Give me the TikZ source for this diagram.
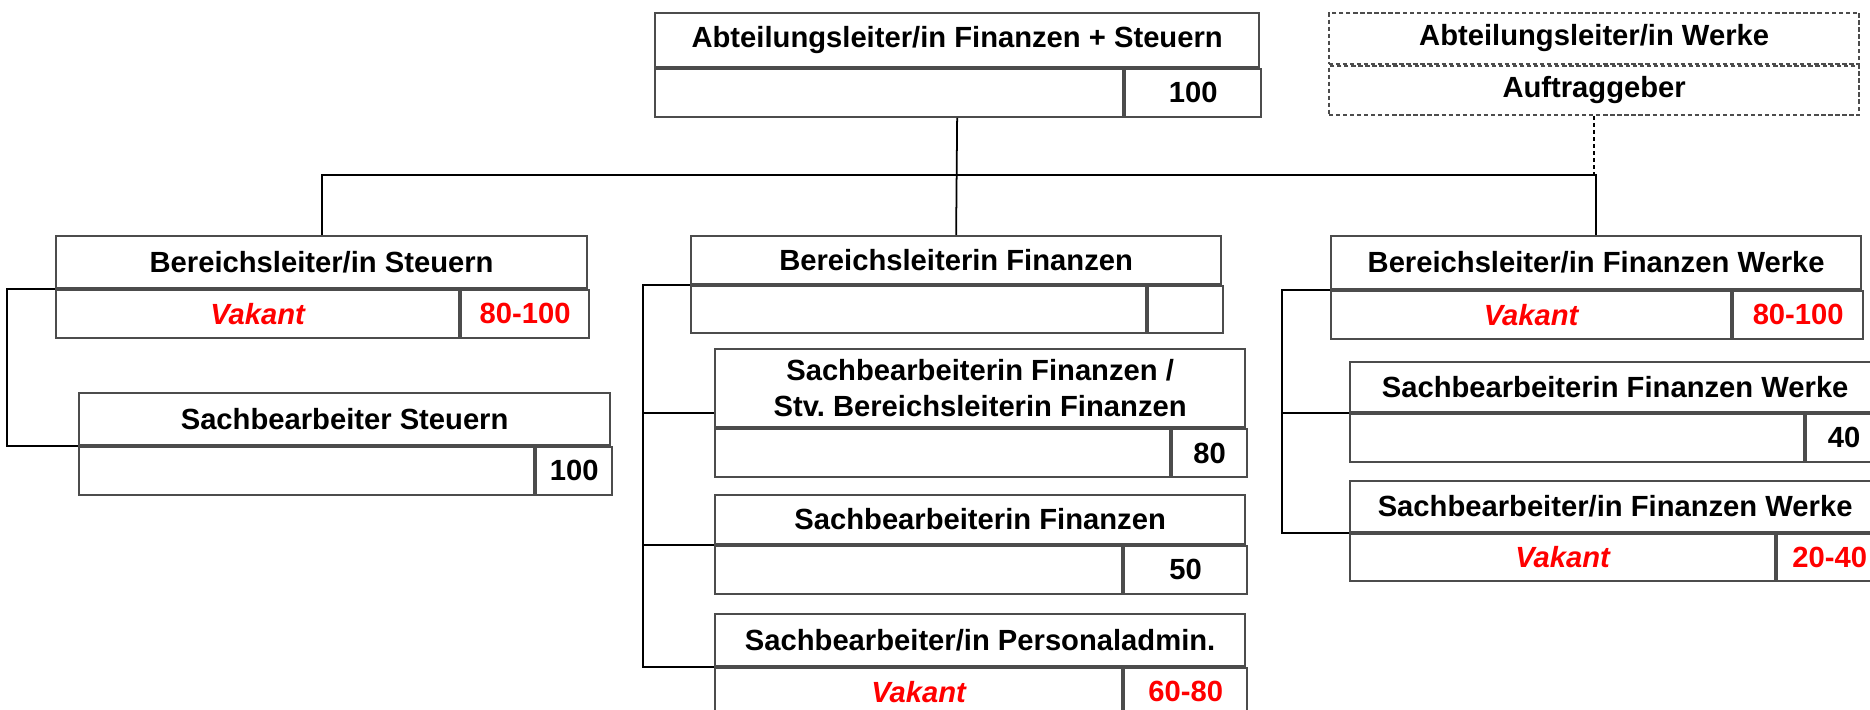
\documentclass[tikz,border=0pt]{standalone}
\usepackage{fontspec}
\setmainfont{Liberation Sans}

\begin{document}
\begin{tikzpicture}[x=0.01cm, y=-0.01cm,
  box/.style={draw=black!70, line width=0.55pt, rectangle, inner sep=0pt, anchor=north west,
    align=center, font=\fontsize{8.3}{10}\selectfont\bfseries},
  row/.style={box, minimum height=0.48cm},
  vak/.style={text=red, font=\fontsize{8.3}{10}\selectfont\bfseries\itshape},
  redpct/.style={text=red},
  link/.style={line width=0.5pt},
  dotline/.style={dash pattern=on 1.2pt off 0.8pt}]
  \useasboundingbox (0,0) rectangle (1870,710);

  % Abteilungsleitung
  \node[box, minimum width=6.04cm, minimum height=0.54cm] (ab) at (654,12) {Abteilungsleiter/in Finanzen + Steuern};
  \node[row, minimum width=4.68cm] (abn) at (ab.south west) {};
  \node[row, minimum width=1.36cm] (abp) at (abn.north east) {100};

  \node[box, dotline, minimum width=5.30cm, minimum height=0.51cm] (aw) at (1328,12) {Abteilungsleiter/in Werke};
  \node[box, dotline, minimum width=5.30cm, minimum height=0.49cm] (awa) at (aw.south west) {Auftraggeber};

  % Steuern
  \node[box, minimum width=5.31cm, minimum height=0.52cm] (bs) at (55,235) {Bereichsleiter/in Steuern};
  \node[row, vak, minimum width=4.03cm] (bsn) at (bs.south west) {Vakant};
  \node[row, redpct, minimum width=1.28cm] (bsp) at (bsn.north east) {80-100};

  \node[box, minimum width=5.31cm, minimum height=0.52cm] (ss) at (78,392) {Sachbearbeiter Steuern};
  \node[row, minimum width=4.55cm] (ssn) at (ss.south west) {};
  \node[row, minimum width=0.76cm] (ssp) at (ssn.north east) {100};

  % Finanzen
  \node[box, minimum width=5.30cm, minimum height=0.48cm] (bf) at (690,235) {Bereichsleiterin Finanzen};
  \node[row, minimum width=4.55cm, minimum height=0.47cm] (bfn) at (bf.south west) {};
  \node[row, minimum width=0.75cm, minimum height=0.47cm] (bfp) at (bfn.north east) {};

  \node[box, minimum width=5.30cm, minimum height=0.78cm] (sf1) at (714,348) {Sachbearbeiterin Finanzen /\\Stv.\ Bereichsleiterin Finanzen};
  \node[row, minimum width=4.55cm] (sf1n) at (sf1.south west) {};
  \node[row, minimum width=0.75cm] (sf1p) at (sf1n.north east) {80};

  \node[box, minimum width=5.30cm, minimum height=0.49cm] (sf2) at (714,494) {Sachbearbeiterin Finanzen};
  \node[row, minimum width=4.07cm] (sf2n) at (sf2.south west) {};
  \node[row, minimum width=1.23cm] (sf2p) at (sf2n.north east) {50};

  \node[box, minimum width=5.30cm, minimum height=0.52cm] (sp) at (714,613) {Sachbearbeiter/in Personaladmin.};
  \node[row, vak, minimum width=4.07cm] (spn) at (sp.south west) {Vakant};
  \node[row, redpct, minimum width=1.23cm] (spp) at (spn.north east) {60-80};

  % Werke
  \node[box, minimum width=5.30cm, minimum height=0.53cm] (bw) at (1330,235) {Bereichsleiter/in Finanzen Werke};
  \node[row, vak, minimum width=4.00cm] (bwn) at (bw.south west) {Vakant};
  \node[row, redpct, minimum width=1.30cm] (bwp) at (bwn.north east) {80-100};

  \node[box, minimum width=5.30cm, minimum height=0.50cm] (sw1) at (1349,361) {Sachbearbeiterin Finanzen Werke};
  \node[row, minimum width=4.54cm] (sw1n) at (sw1.south west) {};
  \node[row, minimum width=0.76cm] (sw1p) at (sw1n.north east) {40};

  \node[box, minimum width=5.30cm, minimum height=0.51cm] (sw2) at (1349,480) {Sachbearbeiter/in Finanzen Werke};
  \node[row, vak, minimum width=4.25cm, minimum height=0.47cm] (sw2n) at (sw2.south west) {Vakant};
  \node[row, redpct, minimum width=1.05cm, minimum height=0.47cm] (sw2p) at (sw2n.north east) {20-40};

  % Linien
  \coordinate (bus) at (0,175);
  \draw[link] (abn.south -| ab.south) -- (bf.north);
  \draw[link] (bs.north) -- (bs.north |- bus) -- (bw.north |- bus) -- (bw.north);
  \draw[link, dotline] (awa.south) -- (awa.south |- bus);

  \draw[link] (bsn.north west) -- ++(-48,0) |- (ssn.north west);

  \draw[link] (bfn.north west) -- ++(-47,0) coordinate (mf) |- (spn.north west);
  \draw[link] (mf |- sf2n.north west) -- (sf2n.north west);
  \coordinate (sf1c) at ([yshift=0.15cm]sf1.south west);
  \draw[link] (mf |- sf1c) -- (sf1c);

  \draw[link] (bwn.north west) -- ++(-48,0) coordinate (mw) |- (sw2n.north west);
  \draw[link] (mw |- sw1n.north west) -- (sw1n.north west);
\end{tikzpicture}
\end{document}
